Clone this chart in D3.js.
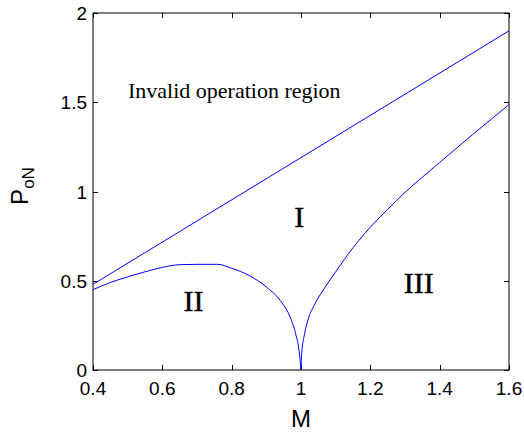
<!DOCTYPE html>
<html>
<head>
<meta charset="utf-8">
<script src="https://cdn.jsdelivr.net/npm/d3@7"></script>
<style>
  body { margin: 0; background: #fff; }
  svg { display: block; }
</style>
</head>
<body>
<script>
// boundary curves (M vs PoN)
var upperM = [0.4, 1.6];
var upperP = [0.48, 1.9];

var leftM = [0.4, 0.45, 0.5, 0.55, 0.6, 0.65, 0.7, 0.76, 0.8, 0.85, 0.9, 0.94, 0.97, 0.985, 0.995, 1.0];
var leftP = [0.45, 0.49, 0.522, 0.55, 0.575, 0.59, 0.592, 0.592, 0.57, 0.53, 0.465, 0.39, 0.29, 0.2, 0.1, 0.0];

var rightM = [1.0, 1.002, 1.01, 1.02, 1.04, 1.07, 1.1, 1.15, 1.2, 1.25, 1.3, 1.35, 1.4, 1.45, 1.5, 1.55, 1.6];
var rightP = [0.0, 0.09, 0.2, 0.28, 0.37, 0.465, 0.55, 0.685, 0.8, 0.9, 0.995, 1.08, 1.163, 1.245, 1.327, 1.407, 1.487];

var xTicks = [0.4, 0.6, 0.8, 1.0, 1.2, 1.4, 1.6];
var yTicks = [0, 0.5, 1, 1.5, 2];

var regionLabels = ["I", "II", "III"];
var regionM = [0.995, 0.69, 1.34];
var regionP = [0.8, 0.33, 0.43];

var width = 524, height = 434,
    margin = {left: 93, right: 15, top: 13, bottom: 64};

var x = d3.scaleLinear().domain([0.4, 1.6]).range([margin.left, width - margin.right]);
var y = d3.scaleLinear().domain([0, 2]).range([height - margin.bottom, margin.top]);

var svg = d3.select("body").append("svg").attr("width", width).attr("height", height);

var tickLen = 5;
var frame = svg.append("g").attr("stroke", "#000").attr("stroke-width", 1);

// inward ticks on all four sides
xTicks.forEach(function(t) {
  var px = Math.round(x(t)) + 0.5;
  frame.append("line").attr("x1", px).attr("x2", px).attr("y1", y(0)).attr("y2", y(0) - tickLen);
  frame.append("line").attr("x1", px).attr("x2", px).attr("y1", y(2)).attr("y2", y(2) + tickLen);
});
yTicks.forEach(function(t) {
  var py = Math.round(y(t)) + 0.5;
  frame.append("line").attr("x1", x(0.4)).attr("x2", x(0.4) + tickLen).attr("y1", py).attr("y2", py);
  frame.append("line").attr("x1", x(1.6)).attr("x2", x(1.6) - tickLen).attr("y1", py).attr("y2", py);
});

// curves
var line = d3.line()
  .x(function(d) { return x(d[0]); })
  .y(function(d) { return y(d[1]); })
  .curve(d3.curveMonotoneX);

function pairs(a, b) { return a.map(function(v, i) { return [v, b[i]]; }); }

[pairs(upperM, upperP), pairs(leftM, leftP), pairs(rightM, rightP)].forEach(function(pts) {
  svg.append("path")
    .attr("d", line(pts))
    .attr("fill", "none")
    .attr("stroke", "#0000ff")
    .attr("stroke-width", 1);
});

frame.append("rect")
  .attr("x", x(0.4)).attr("y", y(2))
  .attr("width", x(1.6) - x(0.4)).attr("height", y(0) - y(2))
  .attr("fill", "none");

// tick labels
svg.append("g").selectAll("text")
  .data(xTicks)
  .enter().append("text")
  .attr("x", function(d) { return x(d); })
  .attr("y", y(0) + 25)
  .attr("text-anchor", "middle")
  .attr("font-family", "Liberation Sans, Arial, sans-serif")
  .attr("font-size", 19)
  .text(function(d) { return d3.format("")(+d.toFixed(1)); });

svg.append("g").selectAll("text")
  .data(yTicks)
  .enter().append("text")
  .attr("x", x(0.4) - 6)
  .attr("y", function(d) { return y(d) + 7; })
  .attr("text-anchor", "end")
  .attr("font-family", "Liberation Sans, Arial, sans-serif")
  .attr("font-size", 19)
  .text(function(d) { return d; });

// axis titles
svg.append("text")
  .attr("x", x(1.0))
  .attr("y", 427)
  .attr("text-anchor", "middle")
  .attr("font-family", "Liberation Sans, Arial, sans-serif")
  .attr("font-size", 24)
  .text("M");

var yl = svg.append("text")
  .attr("transform", "translate(28,186) rotate(-90)")
  .attr("text-anchor", "middle")
  .attr("font-family", "Liberation Sans, Arial, sans-serif")
  .attr("font-size", 24);
yl.append("tspan").text("P");
yl.append("tspan").attr("dy", 6).attr("font-size", 17).text("oN");

// region annotations
svg.append("text")
  .attr("x", 128).attr("y", 98)
  .attr("font-family", "Liberation Serif, Times New Roman, serif")
  .attr("font-size", 22)
  .text("Invalid operation region");

svg.append("g").selectAll("text")
  .data(regionLabels)
  .enter().append("text")
  .attr("x", function(d, i) { return x(regionM[i]); })
  .attr("y", function(d, i) { return y(regionP[i]); })
  .attr("text-anchor", "middle")
  .attr("font-family", "Liberation Serif, Times New Roman, serif")
  .attr("font-size", 30)
  .attr("stroke", "#000")
  .attr("stroke-width", 0.4)
  .text(function(d) { return d; });
</script>
</body>
</html>
